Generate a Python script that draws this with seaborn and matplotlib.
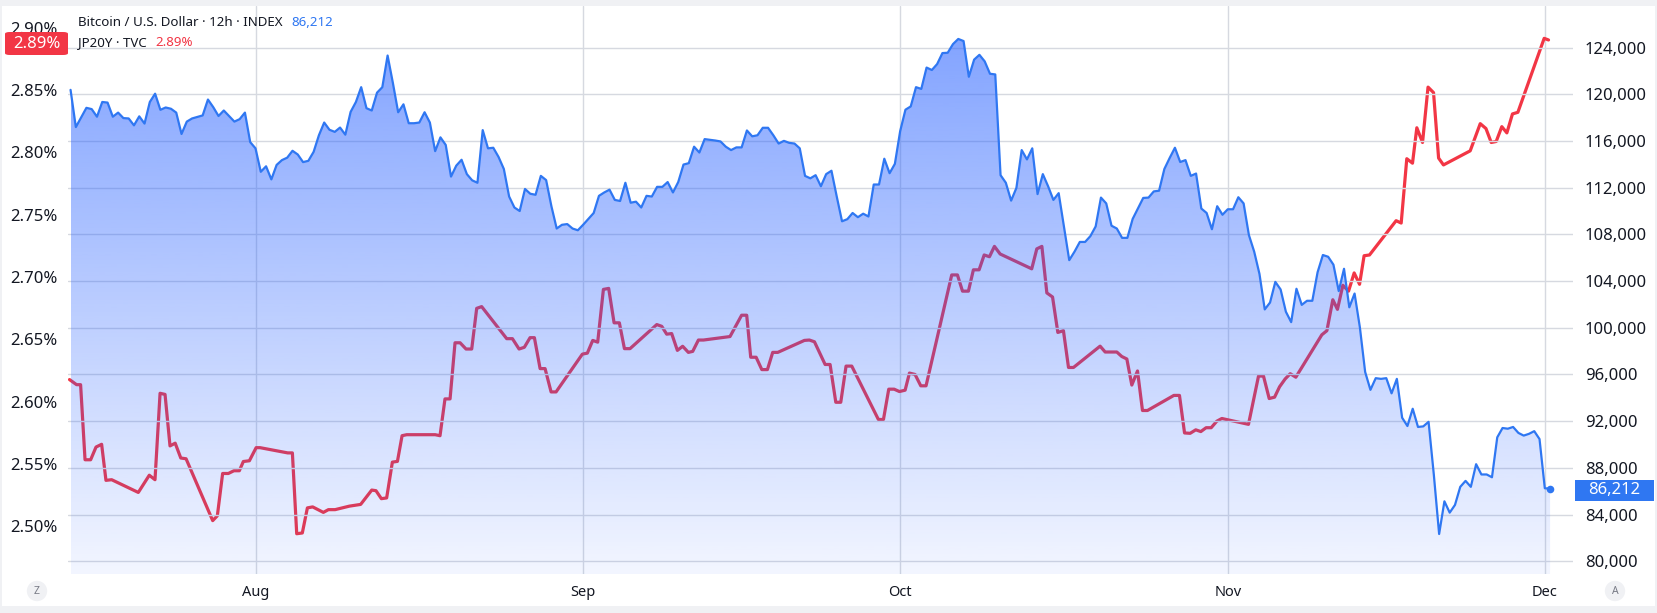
import numpy as np
import pandas as pd
import matplotlib
matplotlib.use("Agg")
import matplotlib.pyplot as plt
import matplotlib.dates as mdates
from matplotlib.colors import to_rgb
from matplotlib.patches import Rectangle, FancyBboxPatch
import seaborn as sns

# ---------------- data (time = days after BASE_DATE) ----------------
BASE_DATE = "2025-08-01"

btc_t = [-17.5, -17.0, -16.0, -15.5, -15.0, -14.5, -14.0, -13.5, -13.0, -12.5, -12.0, -11.5,
         -11.0, -10.5, -10.0, -9.5, -9.0, -8.5, -8.0, -7.5, -7.0, -6.5, -6.0, -5.0, -4.5, -4.0,
         -3.5, -3.0, -2.5, -2.0, -1.5, -1.0, -0.5, 0.0, 0.5, 1.0, 1.5, 2.0, 2.5, 3.0, 3.5, 4.0,
         4.5, 5.0, 5.5, 6.0, 6.5, 7.0, 7.5, 8.0, 8.5, 9.0, 9.5, 10.0, 10.5, 11.0, 11.5, 12.0,
         12.5, 13.0, 13.5, 14.0, 14.5, 15.0, 15.5, 16.0, 16.5, 17.0, 17.5, 18.0, 18.5, 19.0,
         19.5, 20.0, 20.5, 21.0, 21.5, 22.0, 22.5, 23.0, 23.5, 24.0, 24.5, 25.0, 25.5, 26.0,
         26.5, 27.0, 27.5, 28.0, 28.5, 29.0, 29.5, 30.0, 30.5, 31.0, 31.5, 32.0, 32.5, 33.0,
         33.5, 34.0, 34.5, 35.0, 35.5, 36.0, 36.5, 37.0, 37.5, 38.0, 38.5, 39.0, 39.5, 40.0,
         40.5, 41.0, 41.5, 42.0, 42.5, 43.0, 43.5, 44.0, 44.5, 45.0, 45.5, 46.0, 46.5, 47.0,
         47.5, 48.0, 48.5, 49.0, 49.5, 50.0, 50.5, 51.0, 51.5, 52.0, 52.5, 53.0, 53.5, 54.0,
         54.5, 55.0, 55.5, 56.0, 56.5, 57.0, 57.5, 58.0, 58.5, 59.0, 59.5, 60.0, 60.5, 61.0,
         61.5, 62.0, 62.5, 63.0, 63.5, 64.0, 64.5, 65.0, 65.5, 66.0, 66.5, 67.0, 67.5, 68.0,
         68.5, 69.0, 69.5, 70.0, 70.5, 71.0, 71.5, 72.0, 72.5, 73.0, 73.5, 74.0, 74.5, 75.0,
         75.5, 76.0, 76.5, 77.0, 77.5, 78.0, 78.5, 79.0, 79.5, 80.0, 80.5, 81.0, 81.5, 82.0,
         82.5, 83.0, 83.5, 84.0, 84.5, 85.0, 85.5, 86.0, 86.5, 87.0, 87.5, 88.0, 88.5, 89.0,
         89.5, 90.0, 90.5, 91.0, 91.5, 92.0, 92.5, 93.0, 93.5, 94.0, 94.5, 95.0, 95.5, 96.0,
         96.5, 97.0, 97.5, 98.0, 98.5, 99.0, 99.5, 100.0, 100.5, 101.0, 101.5, 102.0, 102.5,
         103.0, 103.5, 104.0, 104.5, 105.0, 105.5, 106.0, 106.5, 107.0, 107.5, 108.0, 108.5,
         109.0, 109.5, 110.0, 110.5, 111.0, 111.5, 112.0, 112.5, 113.0, 113.5, 114.0, 114.5,
         115.0, 115.5, 116.0, 116.5, 117.0, 117.5, 118.0, 118.5, 119.0, 119.5, 120.0, 120.5,
         121.0, 121.5, 122.0, 122.5]
btc_v = [120380, 117190, 118840, 118730, 118080, 119340, 119290, 118080, 118430, 117960, 117930, 117340,
         118110, 117490, 119340, 120050, 118670, 118870, 118760, 118430, 116600, 117660, 117930, 118190, 119550, 118900,
         118140, 118610, 118140, 117660, 117870, 118430, 115900, 115370, 113360, 113830, 112710, 113950, 114360, 114570, 115160, 114840,
         114190, 114300, 115070, 116490, 117580, 116960, 116780, 117150, 116540, 118490, 119340, 120610, 118810, 118610, 120140, 120610,
         123320, 120970, 118460, 119140, 117520, 117520, 117580, 118460, 117580, 115130, 116310, 115660, 112950, 113890,
         114390, 113160, 112630, 112420, 116930, 115370, 115420, 114630, 113600, 111240, 110300, 110000, 111890, 111480,
         111390, 113010, 112650, 110410, 108500, 108820, 108880, 108500, 108350, 108820, 109320, 109830, 111300, 111590,
         111830, 110950, 110860, 112420, 110710, 110800, 110300, 111300, 111240, 112070, 112070, 112480, 111590, 112480,
         113980, 114100, 115510, 115010, 116160, 116100, 116040, 115960, 115510, 115220, 115450, 115450, 116900, 116400,
         116490, 117130, 117130, 116490, 115780, 116010, 115840, 115780, 115370, 113010, 112800, 113070, 112120, 113160,
         113450, 111240, 109120, 109300, 109830, 109470, 109770, 109530, 112270, 112270, 114480, 113240, 114040, 116840,
         118680, 118960, 120610, 120460, 122290, 122080, 122590, 123530, 123560, 124300, 124740, 124560, 121500, 122970,
         123380, 122820, 121760, 121700, 113070, 112420, 110890, 111980, 115220, 114420, 115370, 111450, 113160, 112120,
         110950, 111530, 108680, 105790, 106520, 107350, 107350, 107850, 108680, 111150, 110650, 108740, 108500, 107700,
         107700, 109320, 110210, 111120, 111150, 111680, 111740, 113600, 114540, 115420, 114200, 114360, 113010, 113210,
         110210, 109830, 108440, 110410, 109680, 110150, 110150, 111180, 110650, 107940, 106520, 104610, 101570, 102160,
         103930, 103280, 101370, 100480, 103340, 101960, 102310, 102310, 104760, 106230, 106080, 105400, 103140,
         105050, 101750, 102930, 100040, 96210, 94680, 95680, 95620, 95680, 94380, 95620, 92290,
         91580, 93060, 91500, 91550, 91940, 87400, 82330, 85130, 84160, 84820, 86370, 86880,
         86370, 88310, 87430, 87430, 87190, 90610, 91410, 91350, 91500, 90990, 90760, 90910,
         91140, 90460, 86250, 86212]

jp_t = [-17.6, -17.24, -16.93, -16.55, -16.13, -15.6, -15.09, -14.56, -14.15, -13.61, -11.09, -10.05,
        -9.51, -9.03, -8.56, -8.09, -7.6, -7.07, -6.57, -4.05, -3.61, -3.11, -2.57, -2.04, -1.53,
        -1.15, -0.58, 0.06, 0.43, 3.05, 3.49, 3.90, 4.43, 4.91, 5.41, 6.42, 6.90, 7.53, 8.88,
        9.95, 10.52, 11.0, 11.4, 11.91, 12.41, 12.95, 13.43, 13.87, 14.31, 17.0, 17.46, 17.93,
        18.41, 18.88, 19.36, 19.92, 20.46, 20.93, 21.4, 23.77, 24.31, 24.94, 25.44, 25.98, 26.39,
        26.93, 27.40, 27.97, 28.44, 30.93, 31.40, 31.91, 32.38, 32.92, 33.42, 33.93, 34.43, 34.91,
        35.44, 37.97, 38.44, 38.91, 39.38, 39.92, 40.42, 40.96, 41.37, 41.91, 42.39, 44.90, 46.0,
        46.48, 46.86, 47.37, 47.91, 48.44, 48.94, 49.42, 51.94, 52.41, 52.89, 53.90, 54.37, 54.91,
        55.38, 55.88, 56.42, 58.94, 59.42, 59.92, 60.43, 60.93, 61.47, 61.88, 62.41, 62.95, 63.45,
        65.88, 66.42, 66.90, 67.46, 67.93, 68.47, 68.95, 69.45, 69.92, 70.46, 73.45, 73.93, 74.41,
        74.88, 75.42, 75.92, 76.45, 76.93, 77.40, 79.92, 80.40, 81.50, 81.97, 82.45, 82.92, 83.46,
        83.93, 84.40, 86.90, 87.43, 87.91, 88.44, 88.97, 89.45, 89.95, 90.43, 90.96, 91.44, 93.96,
        94.91, 95.38, 95.92, 96.43, 96.90, 97.43, 97.91, 98.44, 100.90, 101.38, 101.94, 102.38,
        102.89, 103.43, 103.96, 104.47, 104.90, 105.41, 107.93, 108.41, 108.94, 109.48, 109.89,
        110.43, 110.95, 111.47, 111.95, 112.41, 114.94, 115.89, 116.43, 116.93, 117.40, 117.93,
        118.41, 118.94, 119.45, 121.94, 122.35]
jp_v = [2.6177, 2.6155, 2.6136, 2.6136, 2.5534, 2.5534, 2.5636, 2.5658, 2.5369, 2.5374, 2.5272, 2.5410,
        2.5374, 2.6067, 2.6058, 2.5645, 2.5667, 2.5548, 2.5542, 2.5046, 2.5085, 2.5424, 2.5424, 2.5446, 2.5446,
        2.5520, 2.5526, 2.5631, 2.5631, 2.5589, 2.5589, 2.4941, 2.4947, 2.5148, 2.5156, 2.5112, 2.5134, 2.5134, 2.5162,
        2.5176, 2.5239, 2.5291, 2.5286, 2.5222, 2.5228, 2.5515, 2.5521, 2.5727, 2.5735, 2.5735, 2.5727, 2.6022,
        2.6022, 2.6472, 2.6472, 2.6422, 2.6422, 2.6748, 2.6762, 2.6505, 2.6505, 2.6422, 2.6436, 2.6513, 2.6513,
        2.6265, 2.6265, 2.6078, 2.6078, 2.6381, 2.6389, 2.6491, 2.6477, 2.6900, 2.6908, 2.6632, 2.6632, 2.6425,
        2.6425, 2.6618, 2.6604, 2.6541, 2.6546, 2.6411, 2.6444, 2.6395, 2.6403, 2.6494, 2.6494, 2.6522, 2.6693,
        2.6693, 2.6356, 2.6356, 2.6257, 2.6257, 2.6395, 2.6395, 2.6491, 2.6494, 2.6480, 2.6298, 2.6298, 2.5995,
        2.5995, 2.6285, 2.6285, 2.5857, 2.5857, 2.6100, 2.6100, 2.6081, 2.6092, 2.6229, 2.6218, 2.6127, 2.6127,
        2.7016, 2.7016, 2.6886, 2.6886, 2.7057, 2.7057, 2.7176, 2.7162, 2.7245, 2.7184, 2.7065, 2.7225, 2.7245,
        2.6872, 2.6839, 2.6555, 2.6569, 2.6274, 2.6274, 2.6445, 2.6398, 2.6398, 2.6362, 2.6342, 2.6133, 2.6246,
        2.5929, 2.5929, 2.6050, 2.6050, 2.5749, 2.5746, 2.5774, 2.5760, 2.5791, 2.5791, 2.5843, 2.5865, 2.5818,
        2.6205, 2.6205, 2.6025, 2.6036, 2.6119, 2.6182, 2.6224, 2.6196, 2.6536, 2.6569, 2.6817, 2.6740,
        2.6933, 2.6886, 2.7032, 2.6941, 2.7170, 2.7176, 2.7451, 2.7432, 2.7948, 2.7912, 2.8196,
        2.8078, 2.8522, 2.8478, 2.7953, 2.7898, 2.8011, 2.8229, 2.8190, 2.8078, 2.8086, 2.8205,
        2.8155, 2.8307, 2.8320, 2.8913, 2.8900]

pct_ticks = [2.50, 2.55, 2.60, 2.65, 2.70, 2.75, 2.80, 2.85, 2.90]
usd_ticks = [80000, 84000, 88000, 92000, 96000, 100000, 104000, 108000, 112000, 116000, 120000, 124000]
month_ticks = ["2025-08-01", "2025-09-01", "2025-10-01", "2025-11-01", "2025-12-01"]
month_labels = ["Aug", "Sep", "Oct", "Nov", "Dec"]

btc_title = "Bitcoin / U.S. Dollar · 12h · INDEX"
btc_last = "86,212"
jp_title = "JP20Y · TVC"
jp_last = "2.89%"

# ---------------- style ----------------
BLUE = "#2f77f2"
FILL = "#2962ff"
RED = "#f23645"
TEXT = "#131722"
GRID = "#d6d9e0"
FRAME = "#f0f1f4"

sns.set_theme(style="white")
plt.rcParams["font.family"] = ["Noto Sans", "DejaVu Sans"]

W, H = 1657, 613
fig = plt.figure(figsize=(W / 100, H / 100), dpi=100)
fig.patch.set_facecolor("white")

L, R, T, B = 67.6, 1572.5, 6.3, 574.0
ax = fig.add_axes([L / W, 1 - B / H, (R - L) / W, (B - T) / H])
ax2 = ax.twinx()
ax.set_facecolor("white")
for a in (ax, ax2):
    for s in a.spines.values():
        s.set_visible(False)

base = pd.Timestamp(BASE_DATE)
btc = pd.DataFrame({"time": base + pd.to_timedelta(btc_t, unit="D"), "price": btc_v})
jp = pd.DataFrame({"time": base + pd.to_timedelta(jp_t, unit="D"), "yield": jp_v})

X_LEFT = mdates.date2num(base + pd.Timedelta(days=-17.78))
X_RIGHT = mdates.date2num(base + pd.Timedelta(days=124.62))
PCT_LIM = (2.4618, 2.9170)
USD_LIM = (78903, 127538)

# red yield line (below the blue area)
sns.lineplot(data=jp, x="time", y="yield", ax=ax, color=RED, lw=2.3,
             estimator=None, sort=False, zorder=2)

# blue area with vertical gradient
xnum = mdates.date2num(btc["time"])
poly = ax2.fill_between(xnum, btc["price"], USD_LIM[0], facecolor="none", edgecolor="none")
grad = np.zeros((256, 1, 4))
grad[..., :3] = to_rgb(FILL)
grad[:, 0, 3] = np.linspace(0.06, 0.58, 256)
im = ax2.imshow(grad, extent=[xnum[0], xnum[-1], USD_LIM[0], max(btc_v)], origin="lower",
                aspect="auto", zorder=1, interpolation="bilinear")
im.set_clip_path(poly.get_paths()[0], transform=ax2.transData)

sns.lineplot(data=btc, x="time", y="price", ax=ax2, color=BLUE, lw=1.6,
             estimator=None, sort=False, zorder=3)
ax2.scatter([xnum[-1]], [btc_v[-1]], s=30, color=BLUE, zorder=4, linewidths=0)

# limits
ax.set_xlim(X_LEFT, X_RIGHT)
ax2.set_xlim(X_LEFT, X_RIGHT)
ax.set_ylim(*PCT_LIM)
ax2.set_ylim(*USD_LIM)

# ticks / grid
ax.set_xticks(mdates.date2num(pd.to_datetime(month_ticks)))
ax.set_xticklabels(month_labels, fontweight="bold", fontsize=10.5, color=TEXT)
ax.tick_params(axis="x", length=0, pad=8)
ax.grid(axis="x", color=GRID, lw=1)
ax.grid(axis="y", visible=False)

ax.set_yticks(pct_ticks)
ax.set_yticklabels([f"{v:.2f}%" for v in pct_ticks])
ax.tick_params(axis="y", length=0, pad=7, labelsize=12, labelcolor=TEXT)

ax2.set_yticks(usd_ticks)
ax2.set_yticklabels([f"{v:,}" for v in usd_ticks])
ax2.tick_params(axis="y", length=0, pad=9, labelsize=12, labelcolor=TEXT)
ax2.grid(axis="y", color=GRID, lw=1)
ax2.grid(axis="x", visible=False)

for a in (ax, ax2):
    a.set_xlabel("")
    a.set_ylabel("")

# legend text (top-left), values placed right after the measured titles
renderer = fig.canvas.get_renderer()
LEG_FS = 9.6
GAP = 9
for (ypx, title, value, vcol) in ((23, btc_title, btc_last, BLUE), (43, jp_title, jp_last, RED)):
    t = fig.text(78 / W, 1 - ypx / H, title, fontsize=LEG_FS, color=TEXT, va="center", ha="left")
    bb = t.get_window_extent(renderer=renderer)
    fig.text((bb.x1 + GAP) / W, 1 - ypx / H, value, fontsize=LEG_FS, color=vcol, va="center", ha="left")

# price tags
fig.add_artist(FancyBboxPatch((5 / W, 1 - 55 / H), 63 / W, 23 / H, boxstyle="round,pad=0,rounding_size=0.003",
                              transform=fig.transFigure, facecolor=RED, edgecolor="none", zorder=10))
fig.text(36.5 / W, 1 - 43.5 / H, jp_last, fontsize=12, fontweight="bold", color="white",
         ha="center", va="center", zorder=11)
fig.add_artist(Rectangle((1575 / W, 1 - 501 / H), 79 / W, 21 / H, transform=fig.transFigure,
                         facecolor=BLUE, edgecolor="none", zorder=10))
fig.text(1614.5 / W, 1 - 490.5 / H, btc_last, fontsize=12, color="white",
         ha="center", va="center", zorder=11)

# corner buttons
for xp, lab in ((37, "Z"), (1615, "A")):
    fig.text(xp / W, 1 - 591 / H, lab, fontsize=7.5, color="#787b86", ha="center", va="center",
             bbox=dict(boxstyle="circle,pad=0.45", fc=FRAME, ec="none"))

# outer frame strips
for (x, y, w, h) in ((0, 0, W, 6), (0, H - 7, W, 7), (0, 0, 2, H), (W - 2, 0, 2, H)):
    fig.add_artist(Rectangle((x / W, 1 - (y + h) / H), w / W, h / H, transform=fig.transFigure,
                             facecolor=FRAME, edgecolor="none", zorder=0))

fig.savefig("out.png", dpi=100, facecolor="white")
